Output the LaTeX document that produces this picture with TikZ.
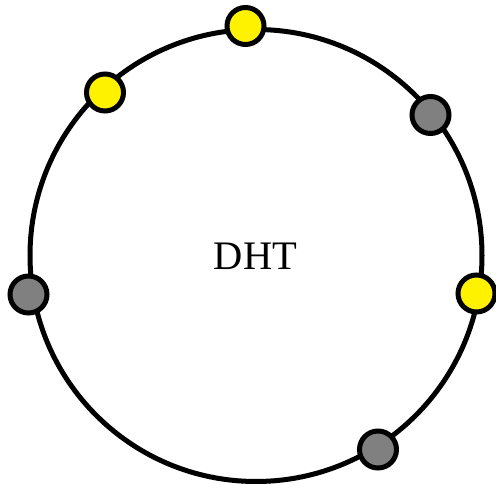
\documentclass[tikz,border=0pt]{standalone}
\usepackage{fontspec}
\setmainfont{Liberation Serif}
\begin{document}
\begin{tikzpicture}[x=1pt,y=1pt,
  ring/.style={draw=black,line width=5pt},
  peer/.style={circle,draw=black,line width=5pt,minimum size=37pt,inner sep=0pt},
  live/.style={peer,fill=yellow},
  idle/.style={peer,fill=gray},
  label/.style={font=\fontsize{40.5}{40.5}\selectfont}]
  \useasboundingbox (0,0) rectangle (496,485);
  % the hash ring
  \draw[ring] (256,229.5) circle (226);
  \node[label] (dht) at (255.5,229) {DHT};
  % peers placed on the ring
  \node[live] (p1) at (245.5,459) {};
  \node[live] (p2) at (105,392.5) {};
  \node[idle] (p3) at (430.5,370) {};
  \node[live] (p4) at (476.5,191.5) {};
  \node[idle] (p5) at (28.5,190.5) {};
  \node[idle] (p6) at (378,35.5) {};
\end{tikzpicture}
\end{document}
